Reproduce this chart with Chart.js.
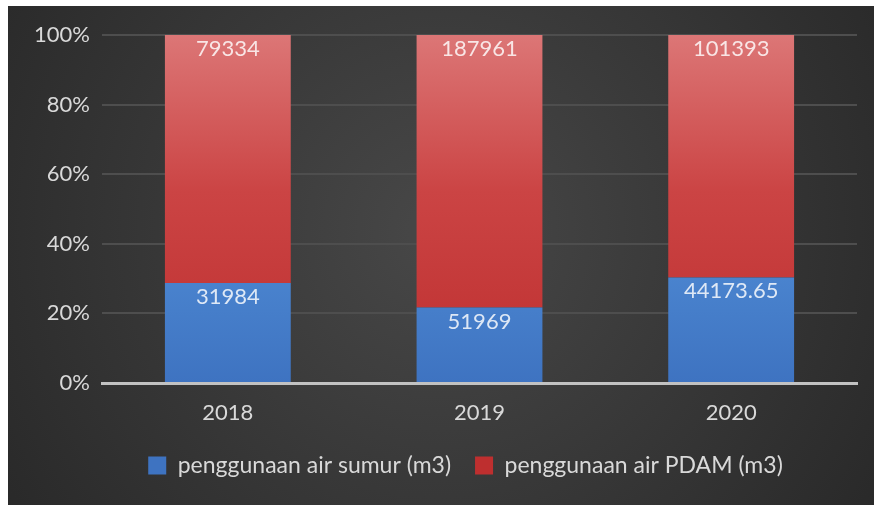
<!DOCTYPE html>
<html>
<head>
<meta charset="utf-8">
<script src="https://cdn.jsdelivr.net/npm/chart.js@4.4.1/dist/chart.umd.min.js"></script>
<style>
  html, body { margin: 0; padding: 0; background: #fff; }
  #wrap { width: 874px; height: 505px; }
</style>
</head>
<body>
<div id="wrap"><canvas id="chart" width="874" height="505"></canvas></div>
<script>
// data
const years = ['2018', '2019', '2020'];
const sumur = [31984, 51969, 44173.65];
const pdam = [79334, 187961, 101393];
const yTicks = [0, 20, 40, 60, 80, 100];

const FONT = 'Lato';

// share of each year's total, for the 100% stack
function share(part) {
  return part.map((v, i) => v / (sumur[i] + pdam[i]) * 100);
}

function grad(chart, stops) {
  const area = chart.chartArea;
  if (!area) return stops[0][1];
  const g = chart.ctx.createLinearGradient(0, area.top, 0, area.bottom);
  stops.forEach(s => g.addColorStop(s[0], s[1]));
  return g;
}

const backdrop = {
  id: 'backdrop',
  beforeDraw(chart) {
    const ctx = chart.ctx;
    const w = chart.width, h = chart.height;
    ctx.save();
    ctx.fillStyle = '#ffffff';
    ctx.fillRect(0, 0, w, h);
    const g = ctx.createRadialGradient(440, 230, 30, 440, 230, 520);
    g.addColorStop(0, '#464646');
    g.addColorStop(1, '#292929');
    ctx.fillStyle = g;
    ctx.fillRect(8, 6, w - 8, h - 6);
    ctx.restore();
  }
};

// legend sits a bit right of the canvas centre in the original
const legendShift = {
  id: 'legendShift',
  afterLayout(chart) {
    chart.legend.left += 37;
    chart.legend.right += 37;
  }
};

// raw values written near the top of each segment
const valueLabels = {
  id: 'valueLabels',
  afterDatasetsDraw(chart) {
    const ctx = chart.ctx;
    ctx.save();
    ctx.font = '22px ' + FONT;
    ctx.fillStyle = 'rgba(255,255,255,0.82)';
    ctx.textAlign = 'center';
    ctx.textBaseline = 'middle';
    chart.data.datasets.forEach((ds, di) => {
      chart.getDatasetMeta(di).data.forEach((bar, i) => {
        ctx.fillText(String(ds.raw[i]), bar.x, bar.y + 14);
      });
    });
    ctx.restore();
  }
};

new Chart(document.getElementById('chart'), {
  type: 'bar',
  data: {
    labels: years,
    datasets: [
      {
        label: 'penggunaan air sumur (m3)',
        data: share(sumur),
        raw: sumur,
        backgroundColor: c => grad(c.chart, [[0, '#6aa0e2'], [0.6, '#4d88d2'], [1, '#3e73c1']])
      },
      {
        label: 'penggunaan air PDAM (m3)',
        data: share(pdam),
        raw: pdam,
        backgroundColor: c => grad(c.chart, [[0, '#dc7676'], [0.45, '#cb4444'], [1, '#be2f2f']])
      }
    ]
  },
  options: {
    responsive: false,
    animation: false,
    layout: { padding: { top: 35, right: 17, bottom: 18, left: 0 } },
    datasets: { bar: { categoryPercentage: 1, barPercentage: 0.5 } },
    scales: {
      x: {
        stacked: true,
        grid: { display: false },
        border: { color: '#c2c2c2', width: 3 },
        ticks: { color: '#d9d9d9', font: { family: FONT, size: 22 }, padding: 9 },
        afterFit(scale) { scale.height = 47; }
      },
      y: {
        stacked: true,
        min: 0,
        max: 100,
        afterBuildTicks(scale) { scale.ticks = yTicks.map(v => ({ value: v })); },
        grid: { color: '#4e4e4e', lineWidth: 2, drawTicks: false },
        border: { display: false },
        ticks: {
          color: '#d9d9d9',
          font: { family: FONT, size: 22 },
          padding: 12,
          autoSkip: false,
          callback: v => v + '%'
        },
        afterFit(scale) { scale.width = 102; }
      }
    },
    plugins: {
      legend: {
        position: 'bottom',
        labels: {
          color: '#d9d9d9',
          font: { family: FONT, size: 23 },
          boxWidth: 18,
          boxHeight: 18,
          padding: 24
        }
      },
      tooltip: { enabled: false }
    }
  },
  plugins: [backdrop, legendShift, valueLabels]
});
</script>
</body>
</html>
